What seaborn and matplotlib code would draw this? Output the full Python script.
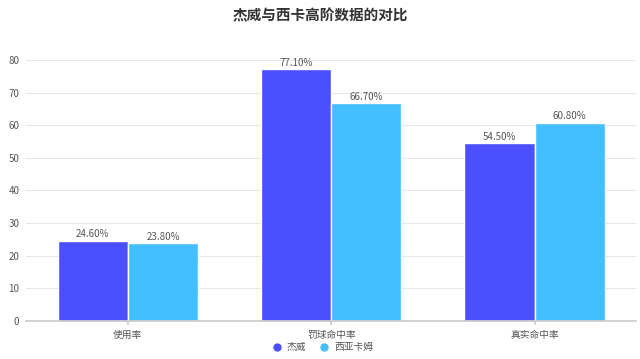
import matplotlib
matplotlib.use('Agg')
import matplotlib.pyplot as plt
import pandas as pd
import seaborn as sns

categories = ['使用率', '罚球命中率', '真实命中率']
players = ['杰威', '西亚卡姆']
jiewei = [24.6, 77.1, 54.5]
siakam = [23.8, 66.7, 60.8]
y_ticks = [0, 10, 20, 30, 40, 50, 60, 70, 80]
colors = ['#4b4fff', '#42bfff']

df = pd.DataFrame({
    'category': categories * 2,
    'player': [players[0]] * 3 + [players[1]] * 3,
    'value': jiewei + siakam,
})

sns.set_theme(style='white')
plt.rcParams['font.family'] = ['Noto Sans CJK SC', 'DejaVu Sans']

fig = plt.figure(figsize=(6.4, 3.59), dpi=100)
ax = fig.add_axes([0.041, 0.106, 0.953, 0.727])
sns.barplot(data=df, x='category', y='value', hue='player', order=categories,
            hue_order=players, palette=colors, width=0.69, edgecolor='white',
            linewidth=1, saturation=1, ax=ax, legend=False)

for cont in ax.containers:
    ax.bar_label(cont, labels=['{:.2f}%'.format(v) for v in cont.datavalues],
                 padding=1, fontsize=7, color='#555555')

ax.set_ylim(0, 80)
ax.set_yticks(y_ticks)
ax.set_xlim(-0.5, 2.5)
ax.yaxis.grid(True, color='#e6e6e6', linewidth=0.8)
ax.set_axisbelow(True)
ax.set_xlabel('')
ax.set_ylabel('')
for s in ['left', 'right', 'top']:
    ax.spines[s].set_visible(False)
ax.spines['bottom'].set_color('#cccccc')
ax.tick_params(axis='y', labelsize=7, colors='#555555', length=0, pad=5)
ax.tick_params(axis='x', labelsize=7, colors='#555555', length=3,
               color='#cccccc', bottom=True)

handles = [plt.Line2D([], [], marker='o', linestyle='', color=c, markersize=5)
           for c in colors]
fig.legend(handles, players, loc='center', bbox_to_anchor=(0.5, 0.033),
           ncol=2, frameon=False, fontsize=7, handletextpad=0.05,
           columnspacing=0.8, labelcolor='#555555')

fig.suptitle('杰威与西卡高阶数据的对比', y=0.98, fontsize=10.5,
             fontweight='bold', color='#333333')
fig.savefig('out.png', dpi=100)
